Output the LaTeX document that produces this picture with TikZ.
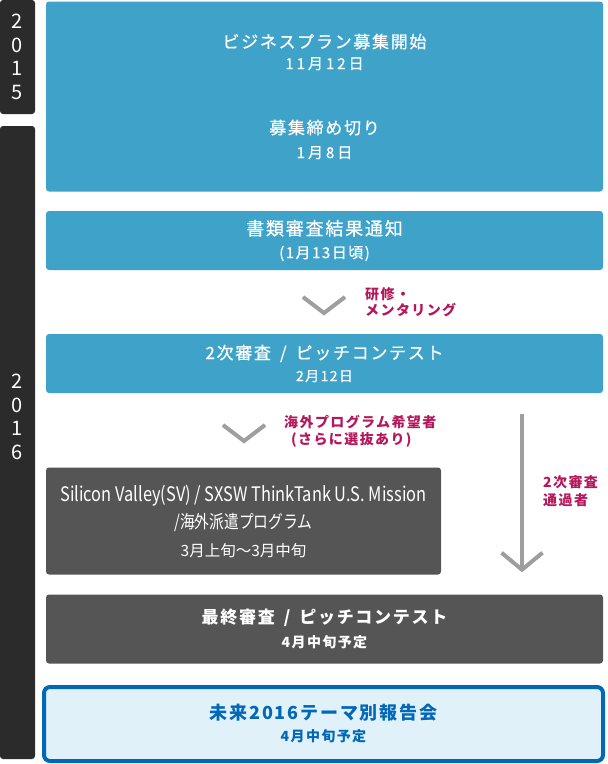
\documentclass[tikz,border=0pt]{standalone}
\usepackage{fontspec}
\setmainfont[LetterSpace=10]{Noto Sans CJK JP}
\newfontfamily\narrowfont[FakeStretch=0.82]{Noto Sans CJK JP}
\newfontfamily\plainfont{Noto Sans CJK JP}
\newfontfamily\midfont[LetterSpace=10, FakeBold=0.6]{Noto Sans CJK JP}
\newfontfamily\widefont[LetterSpace=20, FakeBold=0.4]{Noto Sans CJK JP}
\usetikzlibrary{arrows.meta,positioning}

\definecolor{stepblue}{HTML}{3FA3C9}
\definecolor{stepgrey}{HTML}{555555}
\definecolor{yeargrey}{HTML}{2B2B2B}
\definecolor{notered}{HTML}{B5175A}
\definecolor{chevgrey}{HTML}{9E9E9E}
\definecolor{reportblue}{HTML}{0068B7}
\definecolor{reportfill}{HTML}{E1F1F9}

\newcommand{\titlefont}{\fontsize{17}{20}\selectfont}
\newcommand{\stepsep}{\hspace{9pt}/\hspace{9pt}}

\begin{document}
\begin{tikzpicture}[x=1pt, y=-1pt,
    yearbar/.style={rectangle, fill=yeargrey, rounded corners=3pt, minimum width=35pt, inner sep=0pt, text=white, align=center, font=\plainfont\fontsize{20}{23.5}\selectfont},
    bluebox/.style={rectangle, fill=stepblue, rounded corners=3pt, minimum width=557pt, inner sep=0pt, text=white, align=center, font=\midfont\fontsize{14}{22}\selectfont},
    greybox/.style={bluebox, fill=stepgrey},
    reportbox/.style={rectangle, draw=reportblue, line width=4pt, fill=reportfill, rounded corners=6pt, minimum width=559pt, minimum height=74pt, inner sep=0pt, text=reportblue, align=center, font=\bfseries\fontsize{14}{22}\selectfont},
    note/.style={text=notered, align=left, inner sep=0pt, anchor=west, font=\bfseries\fontsize{14}{16}\selectfont},
    chev/.style={draw=chevgrey, line width=4pt},
    passarrow/.style={draw=chevgrey, line width=4pt, -{Straight Barb[length=17pt, width=41pt]}}]
  \useasboundingbox (0,0) rectangle (608,764);

  \node (y15) [yearbar, minimum height=114pt] at (17.5,57) {2\\0\\1\\5};
  \node (y16) [yearbar, minimum height=633pt] at (17.5,442.5) {};
  \node (y16text) [text=white, align=center, inner sep=0pt, font=\plainfont\fontsize{20}{23.5}\selectfont] at (17.5,417) {2\\0\\1\\6};

  \node (entry) [bluebox, minimum height=190pt] at (324.5,96.5) {{\titlefont ビジネスプラン募集開始}\\[-1pt]{\widefont\fontsize{15}{18}\selectfont 11月12日}\\[43pt]{\titlefont 募集締め切り}\\[2pt]{\widefont\fontsize{15}{18}\selectfont 1月8日}};
  \node (result) [bluebox, minimum height=59pt] at (324.5,240.5) {{\fontsize{18}{20}\selectfont 書類審査結果通知}\\[1pt]{\fontsize{15}{18}\selectfont (1月13日頃)}};
  \node (pitch) [bluebox, minimum height=59pt] at (324.5,363.5) {{\titlefont 2次審査\stepsep ピッチコンテスト}\\[0pt]2月12日};
  \node (mission) [greybox, minimum width=395pt, minimum height=107pt, font=\narrowfont\fontsize{14}{27.5}\selectfont] at (243.5,521) {{\fontsize{20}{20}\selectfont Silicon Valley(SV) / SXSW ThinkTank U.S. Mission}\\{\fontsize{18}{20}\selectfont /海外派遣プログラム}\\{\plainfont\fontsize{15.5}{20}\selectfont 3月上旬〜3月中旬}};
  \node (review) [greybox, minimum height=69pt, font=\bfseries\fontsize{14}{24}\selectfont] at (324.5,629) {{\titlefont 最終審査\stepsep ピッチコンテスト}\\4月中旬予定};
  \node (report) [reportbox] at (323.5,724) {{\fontsize{18}{20}\selectfont 未来2016テーマ別報告会}\\4月中旬予定};

  \coordinate (tip1) at (324,313);
  \draw [chev] (tip1) ++(-21,-16) -- (tip1) -- ++(21,-16);
  \node (training) [note] at (365,302.5) {研修・\\メンタリング};

  \coordinate (tip2) at (244,441);
  \draw [chev] (tip2) ++(-21,-16) -- (tip2) -- ++(21,-16);
  \node (overseas) [note, font=\bfseries\fontsize{14}{17}\selectfont] at (284,431.5) {海外プログラム希望者\\\hspace*{7pt}(さらに選抜あり)};

  \coordinate (passx) at (522,0);
  \draw [passarrow, shorten <=21pt, shorten >=22pt] (pitch.south -| passx) -- (review.north -| passx);
  \node (passed) [note, font=\bfseries\fontsize{14}{18}\selectfont] at (543,491) {2次審査\\通過者};
\end{tikzpicture}
\end{document}
